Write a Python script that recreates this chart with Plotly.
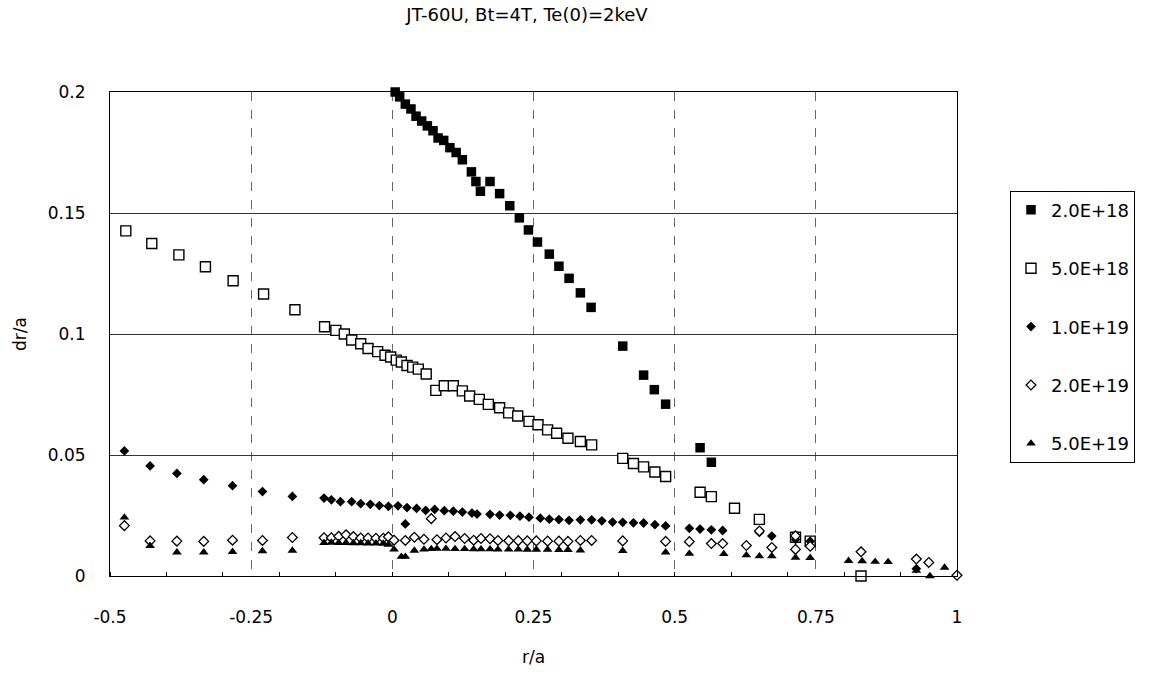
import plotly.graph_objects as go

# ---------------- data ----------------
series_names = ["2.0E+18", "5.0E+18", "1.0E+19", "2.0E+19", "5.0E+19"]

x_2e18 = [0.0, 0.005, 0.013, 0.023, 0.033, 0.042, 0.052, 0.062, 0.072, 0.081, 0.091, 0.102, 0.113, 0.124,
          0.140, 0.148, 0.156, 0.173, 0.190, 0.208, 0.225, 0.241, 0.257, 0.278, 0.295, 0.313, 0.333, 0.352,
          0.408, 0.445, 0.464, 0.484, 0.545, 0.565]
y_2e18 = [0.201, 0.200, 0.198, 0.195, 0.193, 0.190, 0.188, 0.186, 0.184, 0.181, 0.180, 0.177, 0.175, 0.172,
          0.167, 0.163, 0.159, 0.163, 0.158, 0.153, 0.148, 0.143, 0.138, 0.133, 0.128, 0.123, 0.117, 0.111,
          0.095, 0.083, 0.077, 0.071, 0.053, 0.047]

x_5e18 = [-0.472, -0.426, -0.378, -0.331, -0.282, -0.228, -0.1725, -0.120, -0.100, -0.085, -0.072, -0.056,
          -0.043, -0.026, -0.013, -0.003, 0.007, 0.016, 0.026, 0.036, 0.046, 0.060, 0.077, 0.092, 0.108,
          0.124, 0.137, 0.154, 0.170, 0.190, 0.206, 0.222, 0.242, 0.258, 0.275, 0.291, 0.311, 0.333, 0.353,
          0.408, 0.427, 0.445, 0.465, 0.484, 0.545, 0.565, 0.606, 0.650, 0.714, 0.740, 0.830]
y_5e18 = [0.1426, 0.1374, 0.1327, 0.1278, 0.1220, 0.1165, 0.1100, 0.1030, 0.1015, 0.1000, 0.0975, 0.0960,
          0.0940, 0.0927, 0.0912, 0.0905, 0.0892, 0.0884, 0.0870, 0.0863, 0.0855, 0.0835, 0.0767, 0.0786,
          0.0786, 0.0765, 0.0744, 0.0730, 0.0709, 0.0695, 0.0674, 0.0661, 0.0639, 0.0625, 0.0604, 0.0590,
          0.0569, 0.0556, 0.0542, 0.0486, 0.0465, 0.0451, 0.0430, 0.0411, 0.0346, 0.0328, 0.0280, 0.0234,
          0.0160, 0.0144, 0.0]

x_1e19 = [-0.4745, -0.429, -0.3815, -0.334, -0.283, -0.230, -0.177, -0.121, -0.108, -0.092, -0.072, -0.056,
          -0.039, -0.023, -0.007, 0.010, 0.023, 0.026, 0.043, 0.059, 0.075, 0.092, 0.108, 0.124, 0.141,
          0.150, 0.173, 0.190, 0.209, 0.226, 0.242, 0.262, 0.278, 0.295, 0.313, 0.333, 0.353, 0.371, 0.390,
          0.408, 0.427, 0.445, 0.465, 0.484, 0.526, 0.545, 0.565, 0.585, 0.650, 0.672, 0.714, 0.740, 0.928]
y_1e19 = [0.0517, 0.0455, 0.0424, 0.0398, 0.0373, 0.0349, 0.0329, 0.0322, 0.0315, 0.0307, 0.0307, 0.0299,
          0.0296, 0.0291, 0.0288, 0.0290, 0.0215, 0.0283, 0.0279, 0.0271, 0.0275, 0.0270, 0.0268, 0.0264,
          0.0260, 0.0256, 0.0255, 0.0252, 0.0251, 0.0247, 0.0243, 0.0239, 0.0235, 0.0233, 0.0230, 0.0232,
          0.0232, 0.0228, 0.0223, 0.0222, 0.0220, 0.0219, 0.0212, 0.0207, 0.0197, 0.0194, 0.0191, 0.0188,
          0.0180, 0.0165, 0.0151, 0.0144, 0.0030]

x_2e19 = [-0.4745, -0.429, -0.3815, -0.334, -0.283, -0.230, -0.177, -0.121, -0.108, -0.095, -0.082, -0.069,
          -0.056, -0.043, -0.029, -0.016, -0.007, 0.003, 0.023, 0.039, 0.056, 0.069, 0.079, 0.095, 0.111,
          0.128, 0.144, 0.157, 0.173, 0.187, 0.206, 0.223, 0.239, 0.255, 0.275, 0.295, 0.311, 0.333, 0.353,
          0.408, 0.484, 0.526, 0.565, 0.585, 0.627, 0.650, 0.672, 0.714, 0.714, 0.740, 0.830, 0.928, 0.950,
          1.000]
y_2e19 = [0.0208, 0.0145, 0.0144, 0.0143, 0.0148, 0.0147, 0.0159, 0.0158, 0.0158, 0.0164, 0.0170, 0.0163,
          0.0157, 0.0157, 0.0156, 0.0156, 0.0162, 0.0148, 0.0147, 0.0160, 0.0152, 0.0237, 0.0150, 0.0157,
          0.0163, 0.0155, 0.0148, 0.0155, 0.0154, 0.0147, 0.0146, 0.0146, 0.0145, 0.0145, 0.0144, 0.0144,
          0.0143, 0.0147, 0.0147, 0.0145, 0.0143, 0.0142, 0.0134, 0.0134, 0.0126, 0.0186, 0.0118, 0.0166,
          0.0110, 0.0123, 0.0100, 0.0070, 0.0056, 0.0003]

x_5e19 = [-0.4745, -0.429, -0.3815, -0.334, -0.283, -0.230, -0.177, -0.121, -0.108, -0.095, -0.082, -0.069,
          -0.056, -0.043, -0.029, -0.016, -0.007, 0.003, 0.016, 0.023, 0.039, 0.056, 0.069, 0.079, 0.095,
          0.111, 0.128, 0.144, 0.157, 0.173, 0.187, 0.206, 0.223, 0.239, 0.255, 0.275, 0.295, 0.311, 0.333,
          0.408, 0.484, 0.526, 0.587, 0.627, 0.650, 0.672, 0.714, 0.740, 0.808, 0.832, 0.855, 0.878, 0.928,
          0.952, 0.978]
y_5e19 = [0.0242, 0.0125, 0.0098, 0.0098, 0.0100, 0.0103, 0.0105, 0.0137, 0.0138, 0.0137, 0.0137, 0.0136,
          0.0136, 0.0135, 0.0135, 0.0134, 0.0130, 0.0110, 0.0080, 0.0080, 0.0105, 0.0110, 0.0112, 0.0113,
          0.0113, 0.0112, 0.0112, 0.0111, 0.0111, 0.0111, 0.0110, 0.0110, 0.0110, 0.0109, 0.0109, 0.0109,
          0.0108, 0.0108, 0.0106, 0.0104, 0.0098, 0.0092, 0.0091, 0.0086, 0.0082, 0.0082, 0.0076, 0.0075,
          0.0063, 0.0062, 0.0059, 0.0058, 0.0022, 0.0, 0.0035]

x_tick_vals = [-0.5, -0.25, 0, 0.25, 0.5, 0.75, 1]
x_tick_text = ["-0.5", "-0.25", "0", "0.25", "0.5", "0.75", "1"]
y_tick_vals = [0, 0.05, 0.1, 0.15, 0.2]
y_tick_text = ["0", "0.05", "0.1", "0.15", "0.2"]

# ---------------- figure ----------------
FONT = "DejaVu Sans"
fig = go.Figure()

styles = [
    dict(symbol="square", size=9.5, color="black", line=dict(width=0)),
    dict(symbol="square", size=10, color="white", line=dict(width=1.4, color="black")),
    dict(symbol="diamond", size=7.5, color="black", line=dict(width=0)),
    dict(symbol="diamond", size=7.5, color="white", line=dict(width=1.3, color="black")),
    dict(symbol="triangle-up", size=8.5, color="black", line=dict(width=0)),
]
xs = [x_2e18, x_5e18, x_1e19, x_2e19, x_5e19]
ys = [y_2e18, y_5e18, y_1e19, y_2e19, y_5e19]

for name, xv, yv, st in zip(series_names, xs, ys, styles):
    fig.add_trace(go.Scatter(x=xv, y=yv, mode="markers", name=name, marker=st,
                             cliponaxis=False, legendgroup=name))

fig.update_layout(
    width=1152, height=675,
    margin=dict(l=110, r=195, t=92, b=97),
    paper_bgcolor="white", plot_bgcolor="white",
    font=dict(family=FONT, size=17, color="black"),
    title=dict(text="JT-60U, Bt=4T, Te(0)=2keV", x=527 / 1152, xanchor="center",
               y=1 - 15 / 675, yanchor="middle", font=dict(size=18)),
    showlegend=True,
    legend=dict(x=(1010 - 110) / 847, xanchor="left", y=(578 - 191) / 486, yanchor="top",
                bordercolor="black", borderwidth=1, bgcolor="white",
                font=dict(size=18), traceorder="grouped", tracegroupgap=32,
                itemsizing="trace", entrywidth=150, entrywidthmode="pixels"),
    xaxis=dict(range=[-0.5, 1], tickvals=x_tick_vals, ticktext=x_tick_text,
               showline=True, linecolor="black", linewidth=1, mirror=True,
               showgrid=True, gridcolor="#666", gridwidth=1, griddash="dash",
               zeroline=False, ticks="", ticklabelstandoff=26,
               minor=dict(dtick=0.1, tick0=0, ticks="inside", ticklen=4, tickcolor="black", showgrid=False),
               title=dict(text="r/a", standoff=24, font=dict(size=17))),
    yaxis=dict(range=[0, 0.2], tickvals=y_tick_vals, ticktext=y_tick_text,
               showline=True, linecolor="black", linewidth=1, mirror=True,
               showgrid=True, gridcolor="#333", gridwidth=1,
               zeroline=False, ticks="", ticklabelstandoff=20,
               title=dict(text="dr/a", standoff=16, font=dict(size=17))),
)

fig.write_html("out.html")
